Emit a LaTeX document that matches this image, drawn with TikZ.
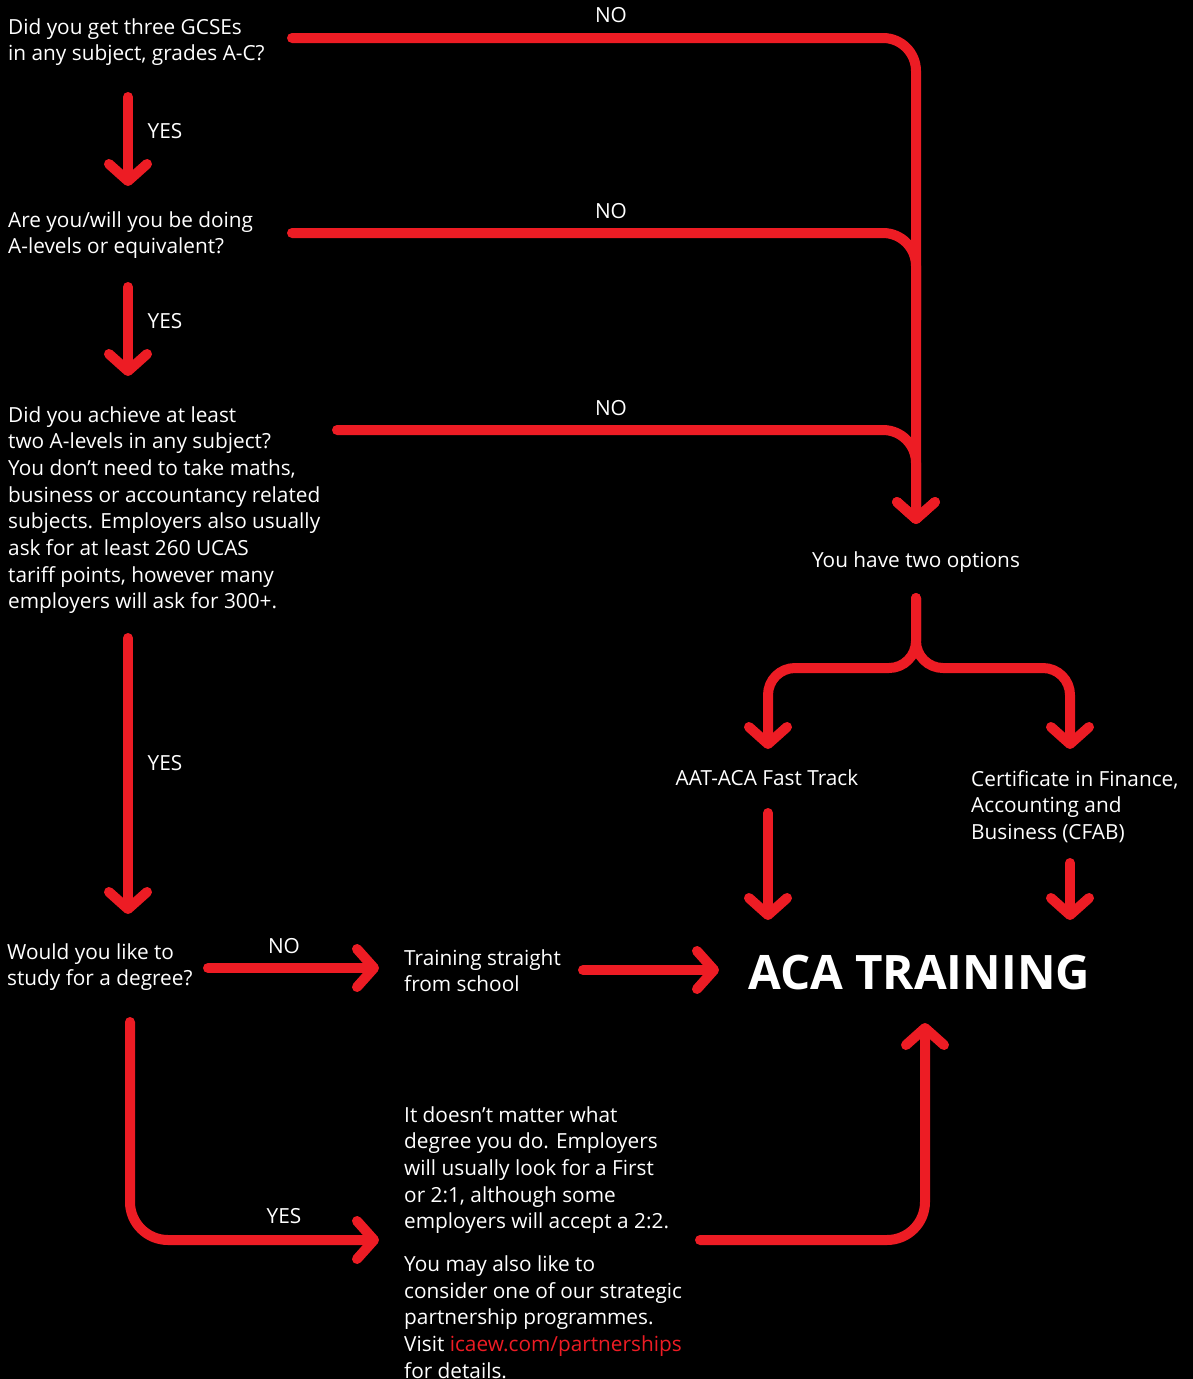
\documentclass[tikz,border=0pt]{standalone}
\usepackage{fontspec}
\setmainfont{Open Sans}
\usetikzlibrary{arrows.meta}
\definecolor{acared}{HTML}{ED1C24}
\begin{document}
\begin{tikzpicture}[x=1pt,y=-1pt,
  txt/.style={text=white,font=\fontsize{20.8}{26.7}\selectfont,inner sep=0pt,align=left,anchor=north west},
  lbl/.style={text=white,font=\fontsize{20.8}{24}\selectfont,inner sep=0pt,anchor=base},
  flow/.style={draw=acared,line width=10pt,line cap=round,line join=round},
  arr/.style={flow,-{Straight Barb[length=17pt,width=38pt,round]}},
]
\fill[black] (0,0) rectangle (1193,1379);
\useasboundingbox (0,0) rectangle (1193,1379);

% questions
\node[txt] (q1) at (8,18) {Did you get three GCSEs\\in any subject, grades A-C?};
\node[txt] (q2) at (8,211) {Are you/will you be doing\\A-levels or equivalent?};
\node[txt] (q3) at (8,406) {Did you achieve at least\\two A-levels in any subject?\\You don’t need to take maths,\\business or accountancy related\\subjects. Employers also usually\\ask for at least 260 UCAS\\tariff points, however many\\employers will ask for 300+.};
\node[txt] (q4) at (7,943) {Would you like to\\study for a degree?};
\node[txt] (school) at (404,949) {Training straight\\from school};
\node[txt] (degree) at (404,1106) {It doesn’t matter what\\degree you do. Employers\\will usually look for a First\\or 2:1, although some\\employers will accept a 2:2.\\[16pt]You may also like to\\consider one of our strategic\\partnership programmes.\\Visit \textcolor{acared}{icaew.com/partnerships}\\for details.};
\node[lbl] (opts) at (916,567) {You have two options};
\node[lbl] (aat) at (767,785) {AAT-ACA Fast Track};
\node[txt] (cfab) at (971,770) {Certificate in Finance,\\Accounting and\\Business (CFAB)};
\node[text=white,inner sep=0pt,anchor=base west,font=\fontsize{47.5}{50}\selectfont\bfseries] (aca) at (748,989) {ACA TRAINING};

% labels
\node[lbl] (yes1) at (165,138) {YES};
\node[lbl] (yes2) at (165,328) {YES};
\node[lbl] (yes3) at (165,770) {YES};
\node[lbl] (no1) at (611,22) {NO};
\node[lbl] (no2) at (611,218) {NO};
\node[lbl] (no3) at (611,415) {NO};
\node[lbl] (no4) at (284,953) {NO};
\node[lbl] (yes4) at (284,1223) {YES};

% coordinates
\coordinate (y1a) at (128,97);   \coordinate (y1b) at (128,186);
\coordinate (y2a) at (128,287);  \coordinate (y2b) at (128,376);
\coordinate (y3a) at (128,638);  \coordinate (y3b) at (128,914);
\coordinate (n1s) at (292,38);
\coordinate (n2s) at (292,233);
\coordinate (n3s) at (337,430);
\coordinate (hub) at (916,524);
\coordinate (m2) at (916,320);
\coordinate (fk) at (916,598);
\coordinate (fl) at (768,749);
\coordinate (fr) at (1070,749);
\coordinate (aatb) at (768,813);
\coordinate (aate) at (768,920);
\coordinate (cfb) at (1070,863);
\coordinate (cfe) at (1070,920);
\coordinate (noa) at (208,968);
\coordinate (nob) at (379,968);
\coordinate (sca) at (583,970);
\coordinate (scb) at (719,970);
\coordinate (dga) at (130,1022);
\coordinate (dgb) at (379,1240);
\coordinate (dta) at (700,1240);
\coordinate (dtb) at (925,1023);

% connectors
\draw[arr] (y1a) -- (y1b);
\draw[arr] (y2a) -- (y2b);
\draw[arr] (y3a) -- (y3b);
\draw[flow,rounded corners=33pt] (n2s) -| (m2);
\draw[arr,rounded corners=33pt] (n1s) -| (hub);
\draw[arr,rounded corners=33pt] (n3s) -| (hub);
\draw[arr,rounded corners=27pt] (fk) |- (fl|-0,668) -- (fl);
\draw[arr,rounded corners=27pt] (fk) |- (fr|-0,668) -- (fr);
\draw[arr] (aatb) -- (aate);
\draw[arr] (cfb) -- (cfe);
\draw[arr] (noa) -- (nob);
\draw[arr] (sca) -- (scb);
\draw[arr,rounded corners=38pt] (dga) |- (dgb);
\draw[arr,rounded corners=38pt] (dta) -| (dtb);
\end{tikzpicture}
\end{document}
